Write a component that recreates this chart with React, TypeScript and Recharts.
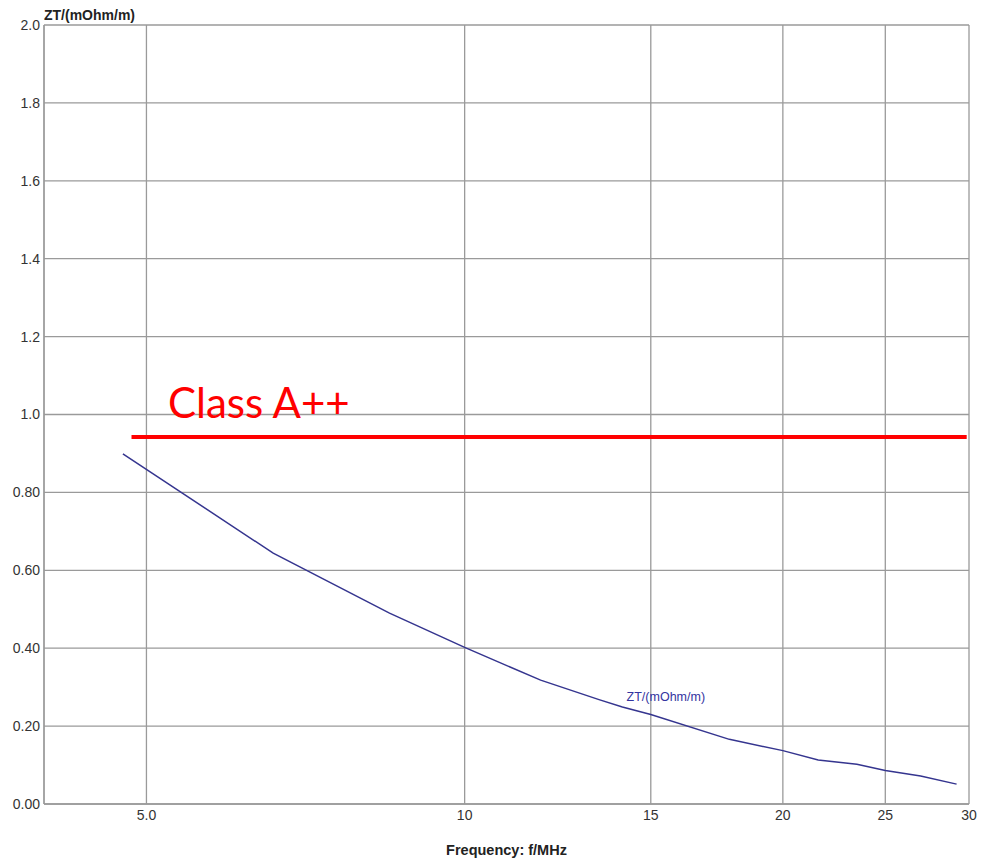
import React from 'react'
import {
  LineChart,
  Line,
  XAxis,
  YAxis,
  CartesianGrid,
  ReferenceLine,
  ReferenceDot,
  Label,
} from 'recharts'

// transfer impedance vs. frequency (log frequency axis)
const freqMHz = [4.75, 6.59, 8.49, 10, 11.8, 13.4, 14.1, 15, 17.8, 20, 21.6, 23.5, 25, 27, 29.2]
const ztValues = [0.899, 0.644, 0.49, 0.402, 0.318, 0.268, 0.249, 0.23, 0.166, 0.137, 0.113, 0.102, 0.086, 0.072, 0.051]

const xTicks = [5, 10, 15, 20, 25, 30]
const xTickLabels = ['5.0', '10', '15', '20', '25', '30']
const yTicks = [0, 0.2, 0.4, 0.6, 0.8, 1.0, 1.2, 1.4, 1.6, 1.8, 2.0]
const yTickLabels = ['0.00', '0.20', '0.40', '0.60', '0.80', '1.0', '1.2', '1.4', '1.6', '1.8', '2.0']

// class limit line
const classLimit = 0.942
const classLimitFrom = 4.84
const classLimitTo = 29.85
const className = 'Class A++'
const classLabelAt = { f: 5.24, v: 0.991 }

const seriesName = 'ZT/(mOhm/m)'
const seriesLabelAt = { f: 15.5, v: 0.275 }

const data = freqMHz.map((f, i) => ({ f, zt: ztValues[i] }))

const FONT = '"Liberation Sans", Arial, sans-serif'
const GRID = '#9a9a9a'
const TICK = '#333'

export default function App() {
  return (
    <div style={{ position: 'absolute', left: 0, top: 0, background: '#fff' }}>
      <LineChart
        width={982}
        height={860}
        data={data}
        margin={{ top: 25, right: 13, bottom: 0, left: 0 }}
        style={{ fontFamily: FONT }}
      >
        <CartesianGrid stroke={GRID} strokeWidth={1.3} />
        <XAxis
          type="number"
          dataKey="f"
          scale="log"
          domain={[4, 30]}
          ticks={xTicks}
          allowDataOverflow
          height={56}
          axisLine={{ stroke: GRID, strokeWidth: 1.3 }}
          tickLine={false}
          tickSize={3}
          tickMargin={3}
          tick={{ fill: TICK, fontSize: 14 }}
          tickFormatter={(v: number) => xTickLabels[xTicks.indexOf(v)] ?? String(v)}
        >
          <Label
            content={({ viewBox }: any) => (
              <text
                x={viewBox.x + viewBox.width / 2}
                y={855}
                textAnchor="middle"
                fontSize={14.5}
                fontWeight="bold"
                fill="#222"
                fontFamily={FONT}
              >
                Frequency: f/MHz
              </text>
            )}
          />
        </XAxis>
        <YAxis
          type="number"
          domain={[0, 2]}
          ticks={yTicks}
          width={44}
          axisLine={{ stroke: GRID, strokeWidth: 1.3 }}
          tickLine={false}
          tickSize={4}
          tickMargin={0}
          tick={{ fill: TICK, fontSize: 14 }}
          tickFormatter={(v: number) => yTickLabels[yTicks.findIndex((t) => Math.abs(t - v) < 1e-6)] ?? String(v)}
        >
          <Label
            content={({ viewBox }: any) => (
              <text
                x={viewBox.x + viewBox.width}
                y={20}
                textAnchor="start"
                fontSize={14}
                fontWeight="bold"
                fill="#222"
                fontFamily={FONT}
              >
                ZT/(mOhm/m)
              </text>
            )}
          />
        </YAxis>
        <ReferenceLine
          segment={[
            { x: classLimitFrom, y: classLimit },
            { x: classLimitTo, y: classLimit },
          ]}
          stroke="#ff0000"
          strokeWidth={4}
          ifOverflow="visible"
        />
        <ReferenceDot
          x={classLabelAt.f}
          y={classLabelAt.v}
          r={0}
          stroke="none"
          fill="none"
          label={({ viewBox }: any) => (
            <text x={viewBox.x} y={viewBox.y} textAnchor="start" fontSize={42} fill="#ff0000" fontFamily="Lato, sans-serif">
              {className}
            </text>
          )}
        />
        <ReferenceDot
          x={seriesLabelAt.f}
          y={seriesLabelAt.v}
          r={0}
          stroke="none"
          fill="none"
          label={({ viewBox }: any) => (
            <text
              x={viewBox.x}
              y={viewBox.y}
              textAnchor="middle"
              dominantBaseline="central"
              fontSize={12.5}
              fill="#3434a0"
              fontFamily={FONT}
            >
              {seriesName}
            </text>
          )}
        />
        <Line
          type="linear"
          dataKey="zt"
          stroke="#35358f"
          strokeWidth={1.5}
          dot={false}
          activeDot={false}
          isAnimationActive={false}
        />
      </LineChart>
    </div>
  )
}
